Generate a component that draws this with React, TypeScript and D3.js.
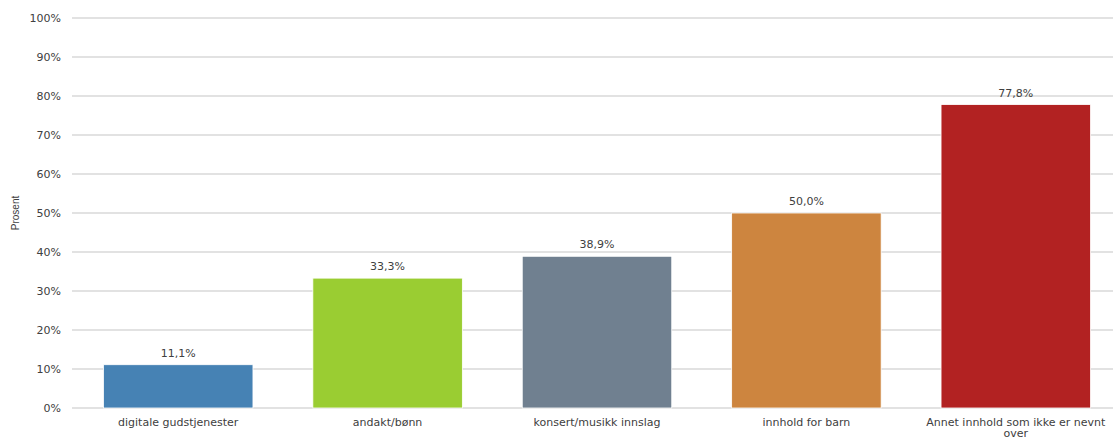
import React, { useEffect, useRef } from "react";
import * as d3 from "d3";

const categories = [
  "digitale gudstjenester",
  "andakt/bønn",
  "konsert/musikk innslag",
  "innhold for barn",
  "Annet innhold som ikke er nevnt over",
];
const values = [11.1, 33.3, 38.9, 50.0, 77.8];
const colors = ["#4682B4", "#9ACD32", "#708090", "#CD853F", "#B22222"];
const yTicks = [0, 10, 20, 30, 40, 50, 60, 70, 80, 90, 100];
const yTitle = "Prosent";

const W = 1113;
const H = 439;
const FONT = "DejaVu Sans, Verdana, sans-serif";

export default function App() {
  const ref = useRef<SVGSVGElement>(null);
  useEffect(() => {
    document.body.style.margin = "0";
    const svg = d3.select(ref.current);
    svg.selectAll("*").remove();
    const x = d3
      .scaleBand<string>()
      .domain(categories)
      .range([73.5, 1120.5])
      .paddingInner(0.286)
      .paddingOuter(0.143);
    const y = d3.scaleLinear().domain([0, 100]).range([408, 18]);

    const grid = svg.append("g");
    grid
      .selectAll("line")
      .data(yTicks)
      .join("line")
      .attr("x1", 72)
      .attr("x2", W)
      .attr("y1", (d) => y(d))
      .attr("y2", (d) => y(d))
      .attr("stroke", "#d9d9d9")
      .attr("stroke-width", 1.3);

    svg
      .append("g")
      .selectAll("text")
      .data(yTicks)
      .join("text")
      .attr("x", 61)
      .attr("y", (d) => y(d))
      .attr("dy", "0.35em")
      .attr("text-anchor", "end")
      .attr("font-family", FONT)
      .attr("font-size", 11)
      .attr("fill", "#404040")
      .text((d) => `${d}%`);

    svg
      .append("text")
      .attr("transform", `translate(19,${y(50)}) rotate(-90)`)
      .attr("text-anchor", "middle")
      .attr("font-family", "Liberation Sans Narrow, Liberation Sans, Arial, sans-serif")
      .attr("font-size", 10)
      .attr("fill", "#404040")
      .text(yTitle);

    svg
      .append("g")
      .selectAll("rect")
      .data(values)
      .join("rect")
      .attr("x", (_, i) => x(categories[i])!)
      .attr("width", x.bandwidth())
      .attr("y", (d) => y(d))
      .attr("height", (d) => y(0) - y(d))
      .attr("fill", (_, i) => colors[i])
      .attr("stroke", "#ffffff")
      .attr("stroke-width", 0.8);

    svg
      .append("g")
      .selectAll("text")
      .data(values)
      .join("text")
      .attr("x", (_, i) => x(categories[i])! + x.bandwidth() / 2)
      .attr("y", (d) => y(d) - 8)
      .attr("text-anchor", "middle")
      .attr("font-family", FONT)
      .attr("font-size", 11)
      .attr("fill", "#404040")
      .text((d) => d.toFixed(1).replace(".", ",") + "%");

    const labels = svg
      .append("g")
      .selectAll("text")
      .data(categories)
      .join("text")
      .attr("x", (d) => x(d)! + x.bandwidth() / 2)
      .attr("y", 426)
      .attr("text-anchor", "middle")
      .attr("font-family", FONT)
      .attr("font-size", 11)
      .attr("fill", "#404040");

    const maxW = 185;
    labels.each(function (d) {
      const t = d3.select(this);
      const words = d.split(" ");
      let line: string[] = [];
      let tspan = t.append("tspan").attr("x", x(d)! + x.bandwidth() / 2).attr("dy", 0);
      for (const w of words) {
        line.push(w);
        tspan.text(line.join(" "));
        if ((tspan.node() as SVGTSpanElement).getComputedTextLength() > maxW && line.length > 1) {
          line.pop();
          tspan.text(line.join(" "));
          line = [w];
          tspan = t
            .append("tspan")
            .attr("x", x(d)! + x.bandwidth() / 2)
            .attr("dy", 11)
            .text(w);
        }
      }
    });
  }, []);
  return <svg ref={ref} width={W} height={H} style={{ display: "block" }} />;
}
